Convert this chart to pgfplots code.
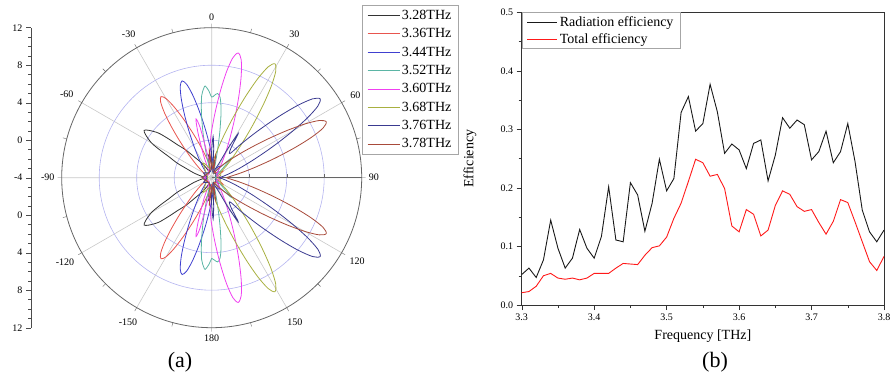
\documentclass[border=0pt]{standalone}
\usepackage{pgfplots}
\pgfplotsset{compat=1.18}
\usepgfplotslibrary{polar}
\usepackage{fontspec}
\setmainfont{Liberation Serif}
\definecolor{cA}{HTML}{333333}
\definecolor{cB}{HTML}{E8554E}
\definecolor{cC}{HTML}{4040D0}
\definecolor{cD}{HTML}{5BB5A5}
\definecolor{cE}{HTML}{F040F0}
\definecolor{cF}{HTML}{A8B040}
\definecolor{cG}{HTML}{3A3A90}
\definecolor{cH}{HTML}{A84A3A}
\definecolor{ringc}{HTML}{B4B4F0}
\definecolor{spokec}{HTML}{C8C8C8}
\begin{document}
\begin{tikzpicture}[x=1bp,y=1bp]
\path[use as bounding box] (0,0) rectangle (891,379);
% radial scale at the left
\begin{axis}[at={(31bp,51.3bp)}, anchor=south west, scale only axis,
  width=10bp, height=300bp, xmin=0, xmax=1, ymin=-16, ymax=16,
  axis y line*=left, hide x axis,
  ytick={-16,-12,-8,-4,0,4,8,12,16},
  yticklabels={12,8,4,0,-4,0,4,8,12},
  minor y tick num=3, tick align=outside,
  major tick length=5bp, minor tick length=3bp,
  y axis line style={draw=black!70}, every tick/.style={black!70},
  yticklabel style={font=\fontsize{10bp}{12bp}\selectfont}]
\end{axis}
\begin{polaraxis}[at={(211.7bp,201.3bp)}, anchor=center, scale only axis,
  width=300bp, height=300bp,
  x coord trafo/.code={\pgfmathparse{90-#1}},
  x coord inv trafo/.code={\pgfmathparse{90-#1}},
  y coord trafo/.code={\pgfmathparse{#1+4}},
  y coord inv trafo/.code={\pgfmathparse{#1-4}},
  ymin=-4, ymax=12,
  xtick={-240,-210,-180,-150,-120,-90,-60,-30,0,30,60,90},
  xticklabels={120,150,180,-150,-120,-90,-60,-30,0,30,60,90},
  minor x tick num=1,
  xticklabel style={font=\fontsize{10bp}{12bp}\selectfont, inner sep=7bp},
  ytick={0,4,8}, yticklabels={},
  xmajorgrids, ymajorgrids,
  x grid style={spokec, line width=0.6bp},
  y grid style={ringc, line width=0.6bp},
  axis line style={draw=black!60, line width=0.8bp},
  major tick length=4bp, minor tick length=4bp,
  every tick/.style={black!60},
  legend style={at={(1.001,1.076)}, anchor=north west, draw=black!35,
    font=\fontsize{14bp}{16bp}\selectfont, inner xsep=5bp, inner ysep=3bp, row sep=3.6bp,
    cells={anchor=west}},
  legend image code/.code={\draw[#1] (0bp,0bp) -- (32bp,0bp);},
  every axis plot/.append style={line width=0.8bp, smooth, tension=0.5}]
\addplot[cA] coordinates {(-180,-2.5) (-172,-1.6) (-166,-3.0) (-160,-3.28) (-150,-2.72) (-145,-2.02) (-140,-1.07) (-137,0.04) (-134,1.02) (-132,2.18) (-130,3.41) (-127,4.40) (-125,4.80) (-123,4.40) (-120,3.41) (-118,2.18) (-116,1.02) (-113,0.04) (-110,-1.07) (-105,-2.02) (-100,-2.72) (-90,-3.28) (-80,-2.72) (-75,-2.02) (-70,-1.07) (-67,0.04) (-64,1.02) (-62,2.18) (-60,3.41) (-57,4.40) (-55,4.80) (-53,4.40) (-50,3.41) (-48,2.18) (-46,1.02) (-43,0.04) (-40,-1.07) (-35,-2.02) (-30,-2.72) (-20,-3.28) (-14,-3.0) (-8,-1.6) (0,-2.5) (8,-2.2) (15,-3.5) (40,-3.3) (90,-3.6) (140,-3.3) (165,-3.5) (172,-2.2) (180,-2.5)};
\addplot[cB] coordinates {(-180,-3.3) (-178,-3.16) (-170,-2.51) (-165,-1.71) (-161,-0.60) (-158,0.68) (-156,1.81) (-154,3.16) (-152,4.59) (-150,5.74) (-148,6.20) (-146,5.74) (-144,4.59) (-142,3.16) (-140,1.81) (-138,0.68) (-135,-0.60) (-131,-1.71) (-126,-2.51) (-118,-3.16) (-100,-3.4) (-90,-3.0) (-80,-3.4) (-62,-3.16) (-54,-2.51) (-49,-1.71) (-45,-0.60) (-42,0.68) (-40,1.81) (-38,3.16) (-36,4.59) (-34,5.74) (-32,6.20) (-30,5.74) (-28,4.59) (-26,3.16) (-24,1.81) (-22,0.68) (-19,-0.60) (-15,-1.71) (-10,-2.51) (-2,-3.16) (5,-2.0) (10,-3.0) (30,-3.4) (60,-2.6) (90,-3.5) (120,-2.6) (150,-3.4) (170,-3.0) (175,-2.0) (180,-3.3)};
\addplot[cC] coordinates {(-180,-1.57) (-176,-0.40) (-173,0.96) (-171,2.16) (-169,3.58) (-167,5.09) (-165,6.31) (-163,6.80) (-161,6.31) (-159,5.09) (-157,3.58) (-155,2.16) (-153,0.96) (-150,-0.40) (-146,-1.57) (-141,-2.42) (-133,-3.11) (-110,-3.4) (-90,-3.0) (-70,-3.4) (-47,-3.11) (-39,-2.42) (-34,-1.57) (-30,-0.40) (-27,0.96) (-25,2.16) (-23,3.58) (-21,5.09) (-19,6.31) (-17,6.80) (-15,6.31) (-13,5.09) (-11,3.58) (-9,2.16) (-7,0.96) (-4,-0.40) (0,-1.57) (5,-2.42) (13,-3.11) (35,-2.5) (60,-3.4) (90,-3.6) (120,-3.4) (145,-2.5) (167,-3.11) (175,-2.42) (180,-1.57)};
\addplot[cD] coordinates {(-180,4.6) (-178,5.3) (-176,5.8) (-175,5.6) (-173,4.8) (-171,3.0) (-169,0.8) (-167,-1.5) (-164,-3.3) (-140,-3.4) (-90,-3.0) (-40,-3.4) (-16,-3.3) (-13,-1.5) (-11,0.8) (-9,3.0) (-7,4.8) (-5,5.6) (-4,5.8) (-2,5.3) (0,4.6) (2,4.8) (4,5.0) (6,4.6) (8,3.2) (10,1.0) (12,-1.0) (15,-2.6) (20,-3.3) (35,-3.0) (45,-1.0) (55,-3.0) (90,-3.6) (125,-3.0) (135,-1.0) (145,-3.0) (160,-3.3) (165,-2.6) (168,-1.0) (170,1.0) (172,3.2) (174,4.6) (176,5.0) (178,4.8) (180,4.6)};
\addplot[cE] coordinates {(-179,0.53) (-176,-1.2) (-172,-2.0) (-169,-1.0) (-167,1.5) (-165,2.5) (-163,1.0) (-160,-1.5) (-156,-3.3) (-130,-3.5) (-90,-3.2) (-50,-3.5) (-24,-3.3) (-20,-1.5) (-17,1.0) (-15,2.5) (-13,1.5) (-11,-1.0) (-8,-2.0) (-4,-1.2) (-1,0.53) (2,2.24) (4,3.75) (6,5.55) (8,7.45) (10,8.99) (12,9.60) (14,8.99) (16,7.45) (18,5.55) (20,3.75) (22,2.24) (25,0.53) (29,-0.94) (34,-2.01) (42,-2.88) (60,-3.4) (90,-3.0) (120,-3.4) (138,-2.88) (146,-2.01) (151,-0.94) (155,0.53) (158,2.24) (160,3.75) (162,5.55) (164,7.45) (166,8.99) (168,9.60) (170,8.99) (172,7.45) (174,5.55) (176,3.75) (178,2.24) (181,0.53)};
\addplot[cF] coordinates {(-179,-2.86) (-170,-3.0) (-150,-2.2) (-120,-3.4) (-90,-3.6) (-60,-3.4) (-30,-2.2) (-10,-3.0) (-1,-2.86) (7,-1.97) (12,-0.87) (16,0.63) (19,2.38) (21,3.92) (23,5.76) (25,7.70) (27,9.27) (29,9.90) (31,9.27) (33,7.70) (35,5.76) (37,3.92) (39,2.38) (42,0.63) (46,-0.87) (51,-1.97) (59,-2.86) (75,-3.0) (90,-3.3) (105,-3.0) (121,-2.86) (129,-1.97) (134,-0.87) (138,0.63) (141,2.38) (143,3.92) (145,5.76) (147,7.70) (149,9.27) (151,9.90) (153,9.27) (155,7.70) (157,5.76) (159,3.92) (161,2.38) (164,0.63) (168,-0.87) (173,-1.97) (181,-2.86)};
\addplot[cG] coordinates {(-177,-3.0) (-150,-3.4) (-120,-3.0) (-90,-3.5) (-60,-3.0) (-30,-3.4) (-2,-3.0) (0,-1.0) (2,0.4) (4,-1.0) (7,-3.0) (15,-3.4) (24,-2.83) (27,-2.3) (29,-0.4) (31,1.5) (33,-0.2) (37,-0.78) (41,0.76) (44,2.56) (46,4.15) (48,6.04) (50,8.04) (52,9.66) (54,10.30) (56,9.66) (58,8.04) (60,6.04) (62,4.15) (64,2.56) (67,0.76) (71,-0.78) (76,-1.91) (84,-2.83) (90,-3.2) (96,-2.83) (104,-1.91) (109,-0.78) (113,0.76) (116,2.56) (118,4.15) (120,6.04) (122,8.04) (124,9.66) (126,10.30) (128,9.66) (130,8.04) (132,6.04) (134,4.15) (136,2.56) (139,0.76) (143,-0.78) (147,-0.2) (149,1.5) (151,-0.4) (153,-2.3) (156,-2.83) (165,-3.4) (173,-3.0) (176,-1.0) (178,0.4) (180,-1.0) (183,-3.0)};
\addplot[cH] coordinates {(-175,-1.0) (-170,-3.0) (-140,-3.4) (-90,-3.0) (-40,-3.4) (-10,-3.0) (-5,-1.0) (5,-3.0) (10,-1.5) (20,-3.3) (34,-2.88) (42,-2.01) (47,-0.94) (51,0.53) (54,2.24) (56,3.75) (58,5.55) (60,7.45) (62,8.99) (64,9.60) (66,8.99) (68,7.45) (70,5.55) (72,3.75) (74,2.24) (77,0.53) (81,-0.94) (86,-2.01) (90,-2.4) (94,-2.01) (99,-0.94) (103,0.53) (106,2.24) (108,3.75) (110,5.55) (112,7.45) (114,8.99) (116,9.60) (118,8.99) (120,7.45) (122,5.55) (124,3.75) (126,2.24) (129,0.53) (133,-0.94) (138,-2.01) (146,-2.88) (160,-3.3) (170,-1.5) (175,-3.0) (185,-1.0)};
\legend{3.28THz,3.36THz,3.44THz,3.52THz,3.60THz,3.68THz,3.76THz,3.78THz}
\end{polaraxis}
% efficiency panel
\begin{axis}[at={(521.7bp,74bp)}, anchor=south west, scale only axis,
  width=362.3bp, height=292.7bp,
  xmin=3.3, xmax=3.8, ymin=0, ymax=0.5,
  xtick={3.3,3.4,3.5,3.6,3.7,3.8}, ytick={0,0.1,0.2,0.3,0.4,0.5},
  minor x tick num=1, minor y tick num=1,
  tick align=outside, xtick pos=left, ytick pos=left,
  major tick length=5bp, minor tick length=3bp,
  axis line style={draw=black!80, line width=0.8bp},
  every tick/.style={black!80},
  /pgf/number format/assume math mode=true,
  xticklabel style={font=\fontsize{10bp}{12bp}\selectfont, /pgf/number format/.cd, fixed, fixed zerofill, precision=1},
  yticklabel style={font=\fontsize{10bp}{12bp}\selectfont, /pgf/number format/.cd, fixed, fixed zerofill, precision=1},
  xlabel={Frequency [THz]}, ylabel={Efficiency},
  label style={font=\fontsize{14bp}{16bp}\selectfont},
  xlabel style={at={(axis description cs:0.5,-0.105)}, anchor=center},
  ylabel style={at={(axis description cs:-0.143,0.5)}, anchor=center},
  legend style={at={(0,1)}, anchor=north west, draw=black!35,
    font=\fontsize{14bp}{16bp}\selectfont, inner xsep=5bp, inner ysep=2bp, row sep=1.5bp,
    cells={anchor=west}},
  legend image code/.code={\draw[#1] (0bp,0bp) -- (30bp,0bp);}]
\addplot[color=black!90, line width=0.9bp] coordinates {(3.30,0.052) (3.31,0.063) (3.32,0.047) (3.33,0.077) (3.34,0.145) (3.35,0.097) (3.36,0.063) (3.37,0.080) (3.38,0.129) (3.39,0.097) (3.40,0.080) (3.41,0.117) (3.42,0.202) (3.43,0.111) (3.44,0.108) (3.45,0.209) (3.46,0.188) (3.47,0.126) (3.48,0.174) (3.49,0.249) (3.50,0.195) (3.51,0.216) (3.52,0.329) (3.53,0.356) (3.54,0.297) (3.55,0.310) (3.56,0.377) (3.57,0.330) (3.58,0.259) (3.59,0.275) (3.60,0.265) (3.61,0.233) (3.62,0.276) (3.63,0.282) (3.64,0.212) (3.65,0.256) (3.66,0.320) (3.67,0.302) (3.68,0.316) (3.69,0.308) (3.70,0.248) (3.71,0.262) (3.72,0.297) (3.73,0.243) (3.74,0.262) (3.75,0.310) (3.76,0.245) (3.77,0.162) (3.78,0.125) (3.79,0.108) (3.80,0.128)};
\addplot[color=red!90!white, line width=0.9bp] coordinates {(3.30,0.021) (3.31,0.023) (3.32,0.032) (3.33,0.050) (3.34,0.054) (3.35,0.046) (3.36,0.044) (3.37,0.046) (3.38,0.043) (3.39,0.046) (3.40,0.054) (3.41,0.054) (3.42,0.054) (3.43,0.063) (3.44,0.071) (3.45,0.070) (3.46,0.069) (3.47,0.085) (3.48,0.098) (3.49,0.101) (3.50,0.116) (3.51,0.148) (3.52,0.174) (3.53,0.211) (3.54,0.249) (3.55,0.243) (3.56,0.220) (3.57,0.223) (3.58,0.199) (3.59,0.135) (3.60,0.125) (3.61,0.163) (3.62,0.155) (3.63,0.118) (3.64,0.128) (3.65,0.170) (3.66,0.195) (3.67,0.189) (3.68,0.168) (3.69,0.160) (3.70,0.163) (3.71,0.141) (3.72,0.121) (3.73,0.143) (3.74,0.180) (3.75,0.175) (3.76,0.142) (3.77,0.108) (3.78,0.074) (3.79,0.059) (3.80,0.083)};
\legend{Radiation efficiency, Total efficiency}
\end{axis}
\node[font=\fontsize{22bp}{24bp}\selectfont] at (180,17) {(a)};
\node[font=\fontsize{22bp}{24bp}\selectfont] at (715,17) {(b)};
\end{tikzpicture}
\end{document}
